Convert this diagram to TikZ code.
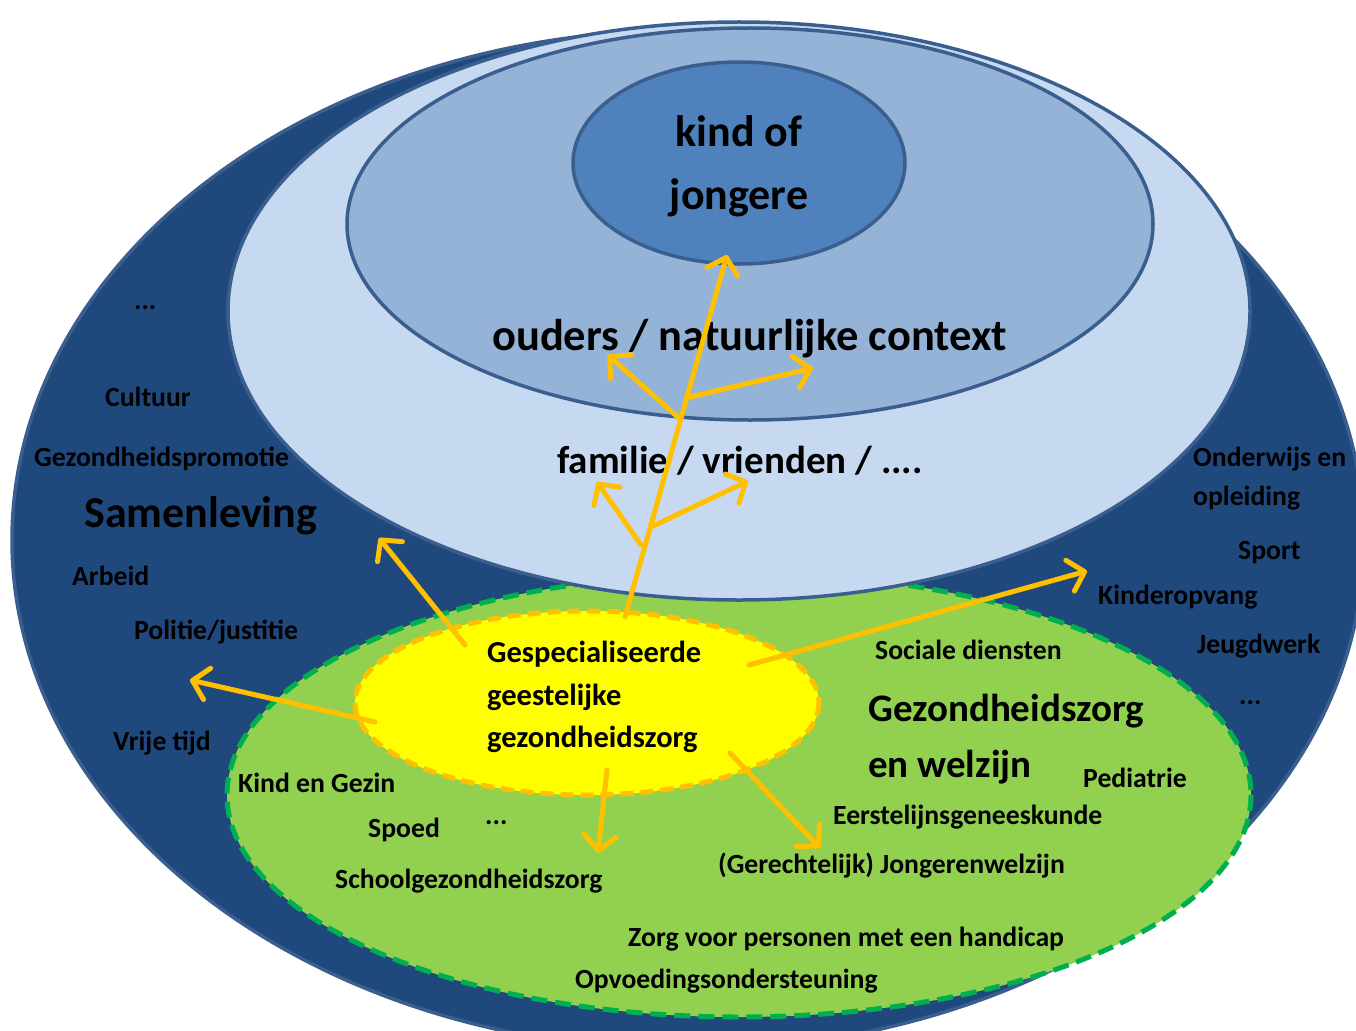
\documentclass[tikz,border=0pt]{standalone}
\usepackage{fontspec}
\setmainfont{Carlito}
\usetikzlibrary{arrows.meta}
\definecolor{dkblue}{HTML}{1F497D}
\definecolor{ringc}{HTML}{3A5F8E}
\definecolor{ltblue}{HTML}{C6D9F1}
\definecolor{mdblue}{HTML}{95B3D7}
\definecolor{inblue}{HTML}{4F81BD}
\definecolor{grfill}{HTML}{92D050}
\definecolor{grline}{HTML}{00B050}
\definecolor{yfill}{HTML}{FFFF00}
\definecolor{orng}{HTML}{FFC000}
\begin{document}
\begin{tikzpicture}[x=1pt,y=-1pt,
  ring/.style={draw=ringc, line width=3.5pt},
  lbl/.style={font=\bfseries\fontsize{#1}{#1}\selectfont, anchor=west, inner sep=0pt, text height=0.7em, text depth=0.2em, yshift=-#1*0.27pt},
  lbl/.default=27.7,
  ctr/.style={font=\bfseries\fontsize{#1}{#1}\selectfont, anchor=center, inner sep=0pt, text height=0.7em, text depth=0.2em, yshift=-#1*0.27pt},
  arr/.style={draw=orng, line width=5pt, line cap=round, -{Straight Barb[length=15pt,width=32pt,round]}}
]
\useasboundingbox (0,0) rectangle (1356,1030);
\clip (0,0) rectangle (1356,1030);
\fill[white] (0,0) rectangle (1356,1030);
% rings
\draw[ring, fill=dkblue] (688,540) ellipse [x radius=676, y radius=510];
\draw[draw=grline, fill=grfill, line width=5pt, dash pattern=on 16pt off 8pt] (739,795) ellipse [x radius=512, y radius=222];
\draw[ring, fill=ltblue] (739,311) ellipse [x radius=511, y radius=289];
\draw[ring, fill=mdblue] (750,224) ellipse [x radius=403, y radius=196];
\draw[ring, fill=inblue] (739,163) ellipse [x radius=166, y radius=101];
\draw[draw=orng, fill=yfill, line width=5pt, dash pattern=on 13pt off 7pt] (587,703) ellipse [x radius=232, y radius=92];

% centre texts
\node[ctr=44] (kind) at (739,132) {kind of};
\node[ctr=44] (jong) at (739,195) {jongere};
\node[lbl=44.5] (ouders) at (492,336) {ouders / natuurlijke context};
\node[lbl=39] (fam) at (557,460) {familie / vrienden / ....};

% Samenleving
\node[lbl=44] (samen) at (84,513) {Samenleving};
\node[lbl] (sdots) at (134,300) {...};
\node[lbl] (cult) at (105,397) {Cultuur};
\node[lbl] (gpro) at (34,457) {Gezondheidspromotie};
\node[lbl] (arb) at (72,576) {Arbeid};
\node[lbl] (pol) at (134,630) {Politie/justitie};
\node[lbl] (vrij) at (113,741) {Vrije tijd};
\node[lbl] (ond1) at (1193,457) {Onderwijs en};
\node[lbl] (ond2) at (1193,496) {opleiding};
\node[lbl] (sport) at (1238,550) {Sport};
\node[lbl] (kop) at (1098,595) {Kinderopvang};
\node[lbl] (jeugd) at (1197,644) {Jeugdwerk};
\node[lbl] (rdots) at (1239,695) {...};

% yellow
\node[lbl=30.5] (g1) at (487,652) {Gespecialiseerde};
\node[lbl=30.5] (g2) at (487,695) {geestelijke};
\node[lbl=30.5] (g3) at (487,737) {gezondheidszorg};

% green
\node[lbl] (soc) at (875,650) {Sociale diensten};
\node[lbl=39] (gz1) at (868,708) {Gezondheidszorg};
\node[lbl=39] (gz2) at (868,764) {en welzijn};
\node[lbl] (ped) at (1083,778) {Pediatrie};
\node[lbl] (eerst) at (833,815) {Eerstelijnsgeneeskunde};
\node[lbl] (ger) at (718,864) {(Gerechtelijk) Jongerenwelzijn};
\node[lbl] (zorg) at (628,937) {Zorg voor personen met een handicap};
\node[lbl] (opv) at (575,979) {Opvoedingsondersteuning};
\node[lbl] (kg) at (238,783) {Kind en Gezin};
\node[lbl] (spoed) at (368,828) {Spoed};
\node[lbl] (gdots) at (485,815) {...};
\node[lbl] (school) at (335,879) {Schoolgezondheidszorg};

% arrow coordinates
\coordinate (trS) at (625,617);
\coordinate (trE) at (727,255);
\coordinate (u1S) at (681,420);
\coordinate (u1E) at (608,355);
\coordinate (u2S) at (686,398);
\coordinate (u2E) at (813,368);
\coordinate (l1S) at (641,545);
\coordinate (l1E) at (597,482);
\coordinate (l2S) at (651,527);
\coordinate (l2E) at (748,481);
\coordinate (sS) at (465,645);
\coordinate (sE) at (379,538);
\coordinate (vS) at (375,722);
\coordinate (vE) at (190,680);
\coordinate (rS) at (749,665);
\coordinate (rE) at (1087,571);
\coordinate (dS) at (607,770);
\coordinate (dE) at (598,853);
\coordinate (drS) at (730,753);
\coordinate (drE) at (820,848);

\draw[arr] (trS) -- (trE);
\draw[arr] (u1S) -- (u1E);
\draw[arr] (u2S) -- (u2E);
\draw[arr] (l1S) -- (l1E);
\draw[arr] (l2S) -- (l2E);
\draw[arr] (sS) -- (sE);
\draw[arr] (vS) -- (vE);
\draw[arr] (rS) -- (rE);
\draw[arr] (dS) -- (dE);
\draw[arr] (drS) -- (drE);
\end{tikzpicture}
\end{document}
